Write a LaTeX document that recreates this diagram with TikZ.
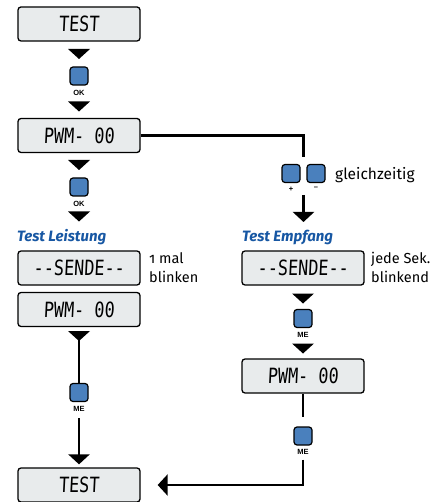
\documentclass[tikz,border=0pt]{standalone}
\usepackage{fontspec}
\setmainfont[Numbers=OldStyle]{Fira Sans}
\newfontfamily\lcdfont[FakeStretch=0.8, FakeSlant=0.05]{DejaVu Sans Mono}
\newfontfamily\keyfont{Liberation Sans}
\usepackage{tikz}
\usetikzlibrary{arrows.meta, positioning}
\definecolor{lcdgray}{rgb}{0.91, 0.92, 0.925}
\definecolor{keyblue}{rgb}{0.29, 0.50, 0.74}
\definecolor{headblue}{rgb}{0.09, 0.34, 0.64}

% small solid triangle pointing down, centred on #1
\newcommand{\downtri}[1]{\fill #1 ++(-11,-5) -- ++(22,0) -- ++(-11,10) -- cycle;}

\begin{document}
\begin{tikzpicture}[x=1pt, y=-1pt,
	lcd/.style={draw, line width=1.3pt, rounded corners=3pt, fill=lcdgray, minimum width=122pt, minimum height=34pt, inner sep=0pt, font=\lcdfont\fontsize{21}{21}\selectfont},
	key/.style={draw, line width=1.2pt, rounded corners=3pt, fill=keyblue, minimum size=18pt, inner sep=0pt},
	keyname/.style={font=\keyfont\bfseries\fontsize{7.5}{7.5}\selectfont, inner sep=0pt, label distance=4pt},
	wire/.style={line width=2.3pt},
	tip/.style={-{Triangle[width=21pt, length=10pt]}},
	note/.style={font=\fontsize{14.5}{19}\selectfont, align=left, inner sep=0pt, anchor=base west},
	head/.style={font=\bfseries\itshape\fontsize{15}{15}\selectfont, text=headblue, inner sep=0pt, anchor=base west}]
		\useasboundingbox (0,0) rectangle (434,502);
		% displays
		\node[lcd] (test) at (79,24) {TEST};
		\node[lcd] (pwm) at (79,135.5) {PWM- 00};
		\node[lcd] (sendeL) at (79,268) {-{}-SENDE-{}-};
		\node[lcd] (pwmL) at (79,309.5) {PWM- 00};
		\node[lcd] (testend) at (79,485) {TEST};
		\node[lcd] (sendeR) at (303,268) {-{}-SENDE-{}-};
		\node[lcd] (pwmR) at (303,376) {PWM- 00};
		% keys
		\node[key, label={[keyname]below:OK}] (ok1) at (79,76) {};
		\node[key, label={[keyname]below:OK}] (ok2) at (79,187) {};
		\node[key, label={[keyname]below:ME}] (meL) at (79,392.5) {};
		\node[key, label={[keyname]below:+}] (plus) at (291,173.5) {};
		\node[key, label={[keyname]below:–}] (minus) at (316,173.5) {};
		\node[key, label={[keyname]below:ME}] (meR) at (303,318.5) {};
		\node[key, label={[keyname]below:ME}] (meend) at (303,436) {};
		% labels:
		\node[head] (leistung) at (17,241) {Test Leistung};
		\node[head] (empfang) at (242,241) {Test Empfang};
		\node[note] (mal) at (149,282) {1 mal\\blinken};
		\node[note] (sek) at (371,282) {jede Sek.\\blinkend};
		\node[note, font=\fontsize{15.5}{19}\selectfont] (gleich) at (335,180) {gleichzeitig};
		% step triangles
		\foreach \y in {54,106.5,165,216.5}{
			\downtri{(79,\y)}
		}
		\foreach \y in {298.5,348.5}{
			\downtri{(303,\y)}
		}
		\downtri{(79,336)}
		% connectors
		\coordinate (split) at (303.5,157);
		\coordinate (join) at (303.5,195);
		\coordinate (empf) at (303.5,222);
		\coordinate (stem) at (79,340);
		\draw[wire] (pwm.east) -| (split);
		\draw[wire, tip] (join) -- (empf);
		\draw[wire] (stem) -- (meL.north);
		\draw[wire, tip, shorten <=16pt, shorten >=3pt] (meL.south) -- (testend.north);
		\draw[wire, shorten >=5pt] (pwmR.south) -- (meR.north |- pwmR.south) -- ++(0,28);
		\draw[wire, tip, shorten <=14pt, shorten >=17pt] (meend.south) |- (testend.east);
	\end{tikzpicture}
\end{document}
